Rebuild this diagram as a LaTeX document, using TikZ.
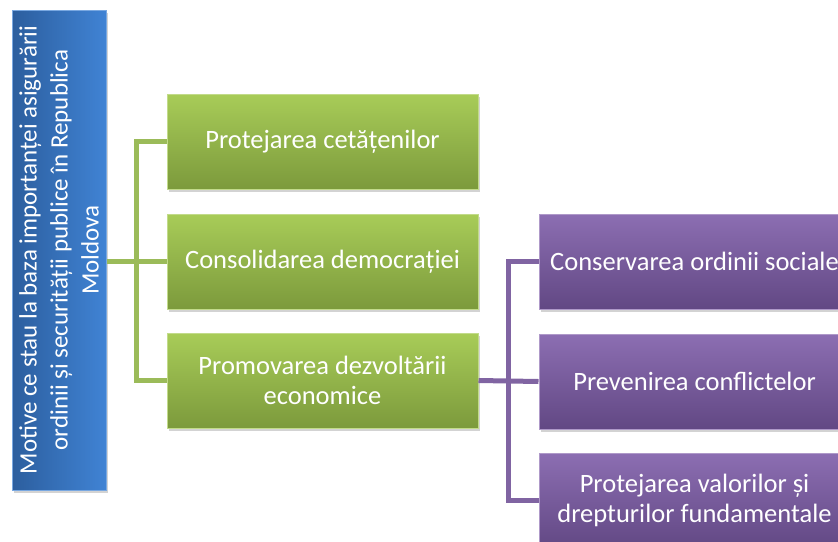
\documentclass[tikz,border=0pt]{standalone}
\usepackage{fontspec}
\setmainfont{Carlito}
\usetikzlibrary{positioning,shadows}
\definecolor{blueTop}{RGB}{64,131,212}
\definecolor{blueBot}{RGB}{44,94,158}
\definecolor{greenTop}{RGB}{168,204,88}
\definecolor{greenBot}{RGB}{124,154,60}
\definecolor{greenLine}{RGB}{155,187,89}
\definecolor{purpleTop}{RGB}{140,110,178}
\definecolor{purpleBot}{RGB}{98,72,132}
\definecolor{purpleLine}{RGB}{128,100,162}
\tikzset{
  box/.style={draw, line width=1pt, text=white, align=center,
    minimum width=311pt, minimum height=95pt, inner sep=2pt,
    font=\fontsize{26.5}{30}\selectfont,
    drop shadow={opacity=.35, shadow xshift=2pt, shadow yshift=-3pt}},
  greenbox/.style={box, draw=greenTop!70!white, top color=greenTop, bottom color=greenBot},
  purplebox/.style={box, draw=purpleTop!70!white, top color=purpleTop, bottom color=purpleBot},
  rootbox/.style={box, rotate=90, minimum width=480pt, minimum height=94pt,
    draw=blueTop!70!white, left color=blueBot, right color=blueTop,
    font=\fontsize{25}{31}\selectfont},
  gline/.style={greenLine, line width=5pt},
  pline/.style={purpleLine, line width=5pt},
}

\begin{document}
\begin{tikzpicture}[x=1pt, y=-1pt, node distance=23pt and 60pt]
  \clip (0,0) rectangle (838,541);
  \useasboundingbox (0,0) rectangle (838,541);
  % root
  \node[rootbox] (motive) at (59,250)
    {Motive ce stau la baza importanței asigurării\\ordinii și securității publice în Republica\\Moldova};
  % first level
  \node[greenbox] (prot) at (322.5,141.5) {Protejarea cetățenilor};
  \node[greenbox, below=24pt of prot] (cons) {Consolidarea democrației};
  \node[greenbox, below=of cons] (prom) {Promovarea dezvoltării\\economice};
  % second level
  \node[purplebox, right=of cons] (ordine) {Conservarea ordinii sociale};
  \node[purplebox, below=24pt of ordine] (prev) {Prevenirea conflictelor};
  \node[purplebox, below=of prev] (valori) {Protejarea valorilor și\\drepturilor fundamentale};
  % connectors
  \draw[gline] (motive.south |- cons.west) -- (cons.west);
  \draw[gline] (prot.west) -- ++(-30,0) |- (prom.west);
  \draw[pline] (prom.east) -- (prev.west);
  \draw[pline] (ordine.west) -- ++(-30,0) |- (valori.west);
\end{tikzpicture}
\end{document}
